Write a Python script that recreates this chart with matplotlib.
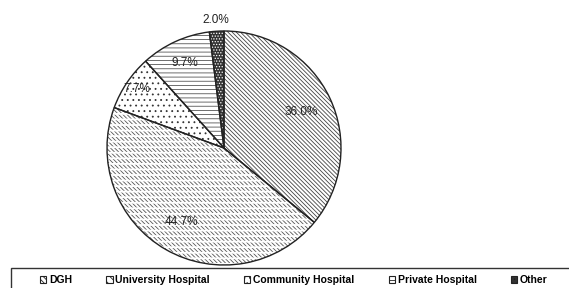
import matplotlib.pyplot as plt
import numpy as np
from matplotlib.patches import Wedge, Patch, Rectangle

plt.rcParams['font.family'] = ['Liberation Sans', 'DejaVu Sans']
plt.rcParams['hatch.linewidth'] = 0.6

categories = ["DGH", "University Hospital", "Community Hospital", "Private Hospital", "Other"]
values = [36.0, 44.7, 7.7, 9.7, 2.0]
labels = ["36.0%", "44.7%", "7.7%", "9.7%", "2.0%"]

# look of each slice (Excel style pattern fills)
hatches = ['\\' * 8, '\\' * 8, '...', '-' * 4, '.' * 6]
hatch_cols = ['#444444', '#555555', '#333333', '#555555', 'white']
face_cols = ['white', 'white', 'white', 'white', '#333333']
label_dist = [0.73, 0.73, 0.90, 0.80, 1.10]

W, H = 569, 288
fig = plt.figure(figsize=(W / 100, H / 100), dpi=100)

cx, cy, r = 224, 140, 117
ax = fig.add_axes([(cx - r) / W, (cy - r) / H, 2 * r / W, 2 * r / H])

wedges, _ = ax.pie(values, startangle=90, counterclock=False)
for w, h, hc, fc in zip(wedges, hatches, hatch_cols, face_cols):
    w.set_facecolor(fc)
    w.set_edgecolor(hc)
    w.set_hatch(h)
    w.set_linewidth(0)

# break the University slice lines into rows of short dashes
wu = wedges[1]
with plt.rc_context({'hatch.linewidth': 1.3}):
    cut = Wedge(wu.center, wu.r, wu.theta1, wu.theta2, facecolor='none',
                edgecolor='white', hatch='---', linewidth=0)
if hasattr(cut, 'set_hatch_linewidth'):
    cut.set_hatch_linewidth(1.3)
ax.add_patch(cut)

# outlines
ax.pie(values, startangle=90, counterclock=False,
       wedgeprops=dict(fill=False, edgecolor='#222222', linewidth=1.0))

# percentage labels
for w, lab, d in zip(wedges, labels, label_dist):
    ang = np.radians((w.theta1 + w.theta2) / 2)
    ax.text(d * np.cos(ang), d * np.sin(ang), lab, ha='center', va='center',
            fontsize=8.5, color='#222222')

ax.set_xlim(-1, 1)
ax.set_ylim(-1, 1)
ax.set_aspect('equal')
ax.axis('off')

# legend
handles = [Patch(facecolor=fc, edgecolor='#222222', hatch=h, linewidth=0.8)
           for fc, h in zip(face_cols, ['\\' * 6, '\\' * 4, '...', '---', '....'])]
fig.legend(handles, categories, ncol=5, loc='upper left',
           bbox_to_anchor=(40 / W, 1 - 275 / H), frameon=False,
           prop={'weight': 'bold', 'size': 7.5},
           handlelength=0.6, handleheight=0.6, handletextpad=0.25,
           columnspacing=3.3, borderpad=0, borderaxespad=0)

fig.patches.append(Rectangle((11 / W, -0.05), 1.0, 1 - 268 / H + 0.05,
                             transform=fig.transFigure, fill=False,
                             edgecolor='#333333', linewidth=1.0))

fig.savefig('out.png', dpi=100)
